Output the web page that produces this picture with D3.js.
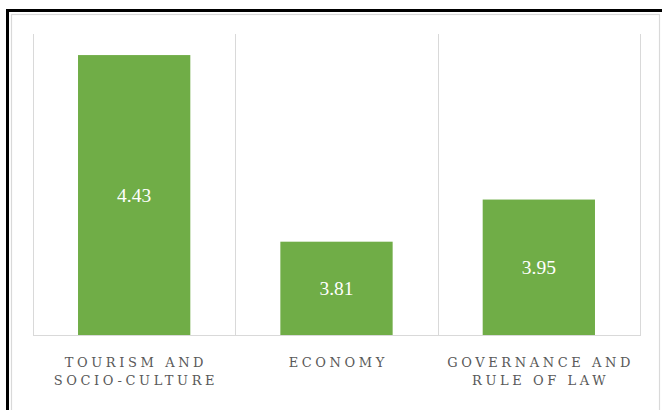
<!DOCTYPE html>
<html>
<head>
<meta charset="utf-8">
<script src="https://cdn.jsdelivr.net/npm/d3@7"></script>
<style>
  body { margin: 0; background: #fff; }
</style>
</head>
<body>
<div id="chart"></div>
<script>
// data
var categories = ["TOURISM AND|SOCIO-CULTURE", "ECONOMY", "GOVERNANCE AND|RULE OF LAW"];
var scores = [4.43, 3.81, 3.95];
var yDomain = [3.5, 4.5];

var svg = d3.select("#chart")
            .append("svg")
            .attr("width", 662)
            .attr("height", 410);

// outer frame: thick black line plus thin grey inner line
svg.append("rect")
   .attr("x", 7.5).attr("y", 10.5)
   .attr("width", 700).attr("height", 500)
   .attr("fill", "none")
   .attr("stroke", "#000")
   .attr("stroke-width", 3);
svg.append("rect")
   .attr("x", 11.5).attr("y", 14.5)
   .attr("width", 648).attr("height", 500)
   .attr("fill", "none")
   .attr("stroke", "#d9d9d9")
   .attr("stroke-width", 1.2);

var plotLeft = 33, plotRight = 640, plotTop = 34, plotBottom = 335;
var serif = "'Liberation Serif', 'Times New Roman', serif";
var slab = "'DejaVu Serif', serif";

var x = d3.scaleBand()
          .domain(categories)
          .range([plotLeft, plotRight])
          .paddingInner(0)
          .paddingOuter(0);

var y = d3.scaleLinear()
          .domain(yDomain)
          .range([plotBottom, plotTop]);

// vertical gridlines at band edges
var edges = categories.map(function(c){ return x(c); }).concat([plotRight]);
svg.selectAll(".grid")
   .data(edges)
   .enter().append("line")
   .attr("x1", function(d){ return Math.round(d) + 0.5; })
   .attr("x2", function(d){ return Math.round(d) + 0.5; })
   .attr("y1", plotTop)
   .attr("y2", plotBottom)
   .attr("stroke", "#d9d9d9")
   .attr("stroke-width", 1);

// baseline
svg.append("line")
   .attr("x1", plotLeft).attr("x2", plotRight + 1)
   .attr("y1", plotBottom + 0.5).attr("y2", plotBottom + 0.5)
   .attr("stroke", "#d9d9d9");

var barW = x.bandwidth() * 0.555;

svg.selectAll(".bar")
   .data(scores)
   .enter().append("rect")
   .attr("x", function(d, i){ return x(categories[i]) + (x.bandwidth() - barW) / 2; })
   .attr("y", function(d){ return y(d); })
   .attr("width", barW)
   .attr("height", function(d){ return plotBottom - y(d); })
   .attr("fill", "#70ad47");

// value labels inside bars
svg.selectAll(".val")
   .data(scores)
   .enter().append("text")
   .attr("x", function(d, i){ return x(categories[i]) + x.bandwidth() / 2; })
   .attr("y", function(d){ return (y(d) + plotBottom) / 2 + 7; })
   .attr("text-anchor", "middle")
   .style("font-family", serif)
   .style("font-size", "19.5px")
   .attr("fill", "#fff")
   .text(function(d){ return d.toFixed(2); });

// category labels, split on |
categories.forEach(function(c){
  var lines = c.split("|");
  var t = svg.append("text")
             .attr("text-anchor", "middle")
             .style("font-family", slab)
             .style("font-size", "13px")
             .style("letter-spacing", "3.6px")
             .attr("fill", "#595959");
  lines.forEach(function(l, j){
    t.append("tspan")
     .attr("x", x(c) + x.bandwidth() / 2 + 1.8)
     .attr("y", 367 + j * 18)
     .text(l);
  });
});
</script>
</body>
</html>
